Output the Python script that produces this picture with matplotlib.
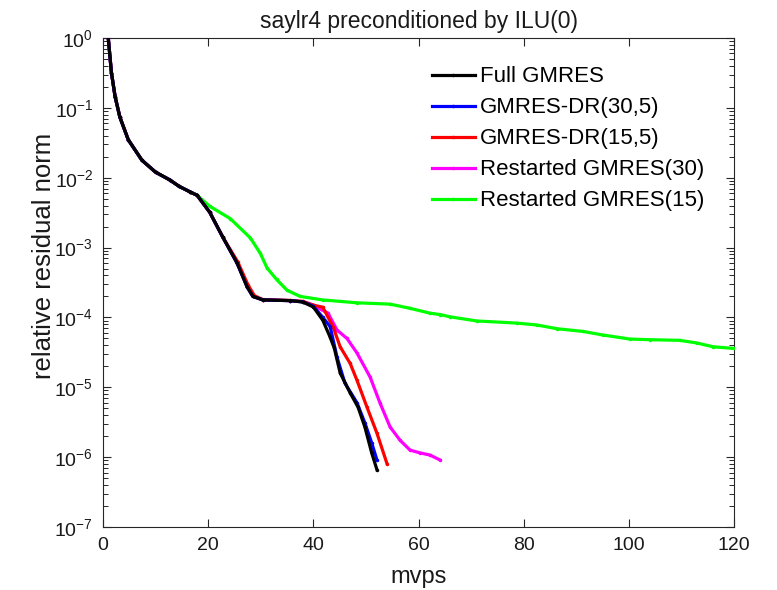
import numpy as np
import matplotlib
matplotlib.use("Agg")
import matplotlib.pyplot as plt
from matplotlib.ticker import LogLocator, FixedLocator, NullFormatter

plt.rcParams['font.family'] = ['Liberation Sans', 'DejaVu Sans']
plt.rcParams['mathtext.fontset'] = 'custom'
plt.rcParams['mathtext.rm'] = 'Liberation Sans'
plt.rcParams['mathtext.it'] = 'Liberation Sans:italic'

# Residual history shared by all methods before they diverge
mvps_start = [1, 1.6, 2.3, 3.2, 4.8, 7.4, 10, 12.7, 14.5, 16.5, 17.9]
res_start = [1.0, 0.32, 0.145, 0.074, 0.035, 0.0178, 0.012, 0.0093, 0.0075, 0.0063, 0.0056]

# Full GMRES
mvps_full = mvps_start + [20.3, 22.8, 25.5, 27.4, 28.5, 30.4, 35.6, 38, 40, 41.8, 43.2,
                          44.0, 45.1, 47.0, 48.5, 49.8, 51.1, 52.1]
res_full = res_start + [3.2e-3, 1.4e-3, 6.0e-4, 2.75e-4, 2.0e-4, 1.78e-4, 1.74e-4, 1.66e-4,
                        1.41e-4, 9.1e-5, 5.2e-5, 3.6e-5, 1.6e-5, 8.3e-6, 5.2e-6, 2.7e-6,
                        1.15e-6, 6.6e-7]

# GMRES-DR(30,5)
mvps_dr30 = mvps_start + [20.3, 22.8, 25.5, 27.4, 28.5, 30.4, 35.6, 38, 40, 41.8, 43.2,
                          44.5, 46.0, 48.3, 49.8, 51.1, 52.1]
res_dr30 = res_start + [3.2e-3, 1.4e-3, 6.0e-4, 2.75e-4, 2.0e-4, 1.78e-4, 1.74e-4, 1.67e-4,
                        1.45e-4, 1.0e-4, 7.4e-5, 2.7e-5, 1.15e-5, 6.0e-6, 3.1e-6, 1.6e-6,
                        9.1e-7]

# GMRES-DR(15,5)
mvps_dr15 = mvps_start + [20.3, 22.8, 25.6, 27.6, 28.8, 30.4, 35.6, 38, 40, 41.8, 43.8,
                          45.1, 47.0, 48.3, 50.2, 52.1, 54.0]
res_dr15 = res_start + [3.2e-3, 1.4e-3, 6.3e-4, 2.9e-4, 2.05e-4, 1.8e-4, 1.75e-4, 1.7e-4,
                        1.5e-4, 1.4e-4, 7.2e-5, 3.8e-5, 2.2e-5, 1.26e-5, 5.2e-6, 2.2e-6,
                        8.1e-7]

# Restarted GMRES(30)
mvps_r30 = mvps_start + [20.3, 22.8, 25.5, 27.4, 28.5, 30.4, 35.6, 38, 40, 41.5, 42.8,
                         44.5, 46.4, 48.3, 50.8, 52.7, 54.6, 56.5, 58.4, 60.3, 62.2, 64.1]
res_r30 = res_start + [3.2e-3, 1.4e-3, 6.0e-4, 2.75e-4, 2.0e-4, 1.78e-4, 1.74e-4, 1.68e-4,
                       1.5e-4, 1.3e-4, 1.15e-4, 6.6e-5, 5.0e-5, 3.1e-5, 1.4e-5, 5.9e-6,
                       2.7e-6, 1.74e-6, 1.26e-6, 1.15e-6, 1.07e-6, 9.1e-7]

# Restarted GMRES(15)
mvps_r15 = mvps_start + [20.3, 24.2, 28.0, 29.9, 31.2, 33.0, 35.0, 37.5, 41.8, 48.3, 54.6,
                         58.4, 62.2, 64.1, 66.0, 71.1, 78.7, 82.5, 86.3, 91.3, 95.1, 100.2,
                         104.0, 109.7, 113.0, 116.0, 120.0]
res_r15 = res_start + [3.9e-3, 2.6e-3, 1.38e-3, 8.3e-4, 5.1e-4, 3.5e-4, 2.45e-4, 2.0e-4,
                       1.78e-4, 1.62e-4, 1.55e-4, 1.35e-4, 1.15e-4, 1.1e-4, 1.02e-4, 8.9e-5,
                       8.3e-5, 7.8e-5, 6.9e-5, 6.3e-5, 5.6e-5, 4.9e-5, 4.8e-5, 4.7e-5,
                       4.3e-5, 3.8e-5, 3.6e-5]

labels = ['Full GMRES', 'GMRES-DR(30,5)', 'GMRES-DR(15,5)',
          'Restarted GMRES(30)', 'Restarted GMRES(15)']
colors = ['#000000', '#0000ff', '#ff0000', '#ff00ff', '#00ff00']
series = [(mvps_full, res_full), (mvps_dr30, res_dr30), (mvps_dr15, res_dr15),
          (mvps_r30, res_r30), (mvps_r15, res_r15)]

fig = plt.figure(figsize=(7.77, 5.90), dpi=100)
ax = fig.add_axes([103 / 777, 1 - 527 / 590, 631 / 777, 489 / 590])

handles = []
for i, ((x, y), lab, c) in enumerate(zip(series, labels, colors)):
    h, = ax.semilogy(x, y, '-', color=c, lw=2.3, marker='.', ms=3,
                     label=lab, zorder=10 - i)
    handles.append(h)

ax.set_xlim(0, 120)
ax.set_ylim(1e-7, 1e0)
ax.xaxis.set_major_locator(FixedLocator([0, 20, 40, 60, 80, 100, 120]))
ax.yaxis.set_major_locator(LogLocator(base=10, numticks=20))
ax.yaxis.set_minor_locator(LogLocator(base=10, subs=np.arange(2, 10), numticks=20))
ax.yaxis.set_minor_formatter(NullFormatter())
ax.xaxis.get_offset_text().set_visible(False)
ax.yaxis.get_offset_text().set_visible(False)

edge = '#262626'
for s in ax.spines.values():
    s.set_color(edge)
    s.set_linewidth(0.8)
ax.tick_params(which='both', direction='in', top=True, right=True,
               color=edge, labelcolor='#1a1a1a', labelsize=14)
ax.tick_params(which='major', length=6, width=0.8, pad=7)
ax.tick_params(which='minor', length=3.5, width=0.7)

ax.set_title('saylr4 preconditioned by ILU(0)', fontsize=16.5, pad=7, color='#1a1a1a')
ax.set_xlabel('mvps', fontsize=17, labelpad=9, color='#1a1a1a')
ax.set_ylabel('relative residual norm', fontsize=18.5, color='#1a1a1a')
ax.yaxis.set_label_coords(-0.074, 0.554)

leg = ax.legend(handles=handles, loc='upper right', bbox_to_anchor=(0.985, 0.983),
                frameon=False, fontsize=16, handlelength=1.9, handletextpad=0.25,
                labelspacing=0.45, numpoints=1)

fig.savefig('out.png', dpi=100)
